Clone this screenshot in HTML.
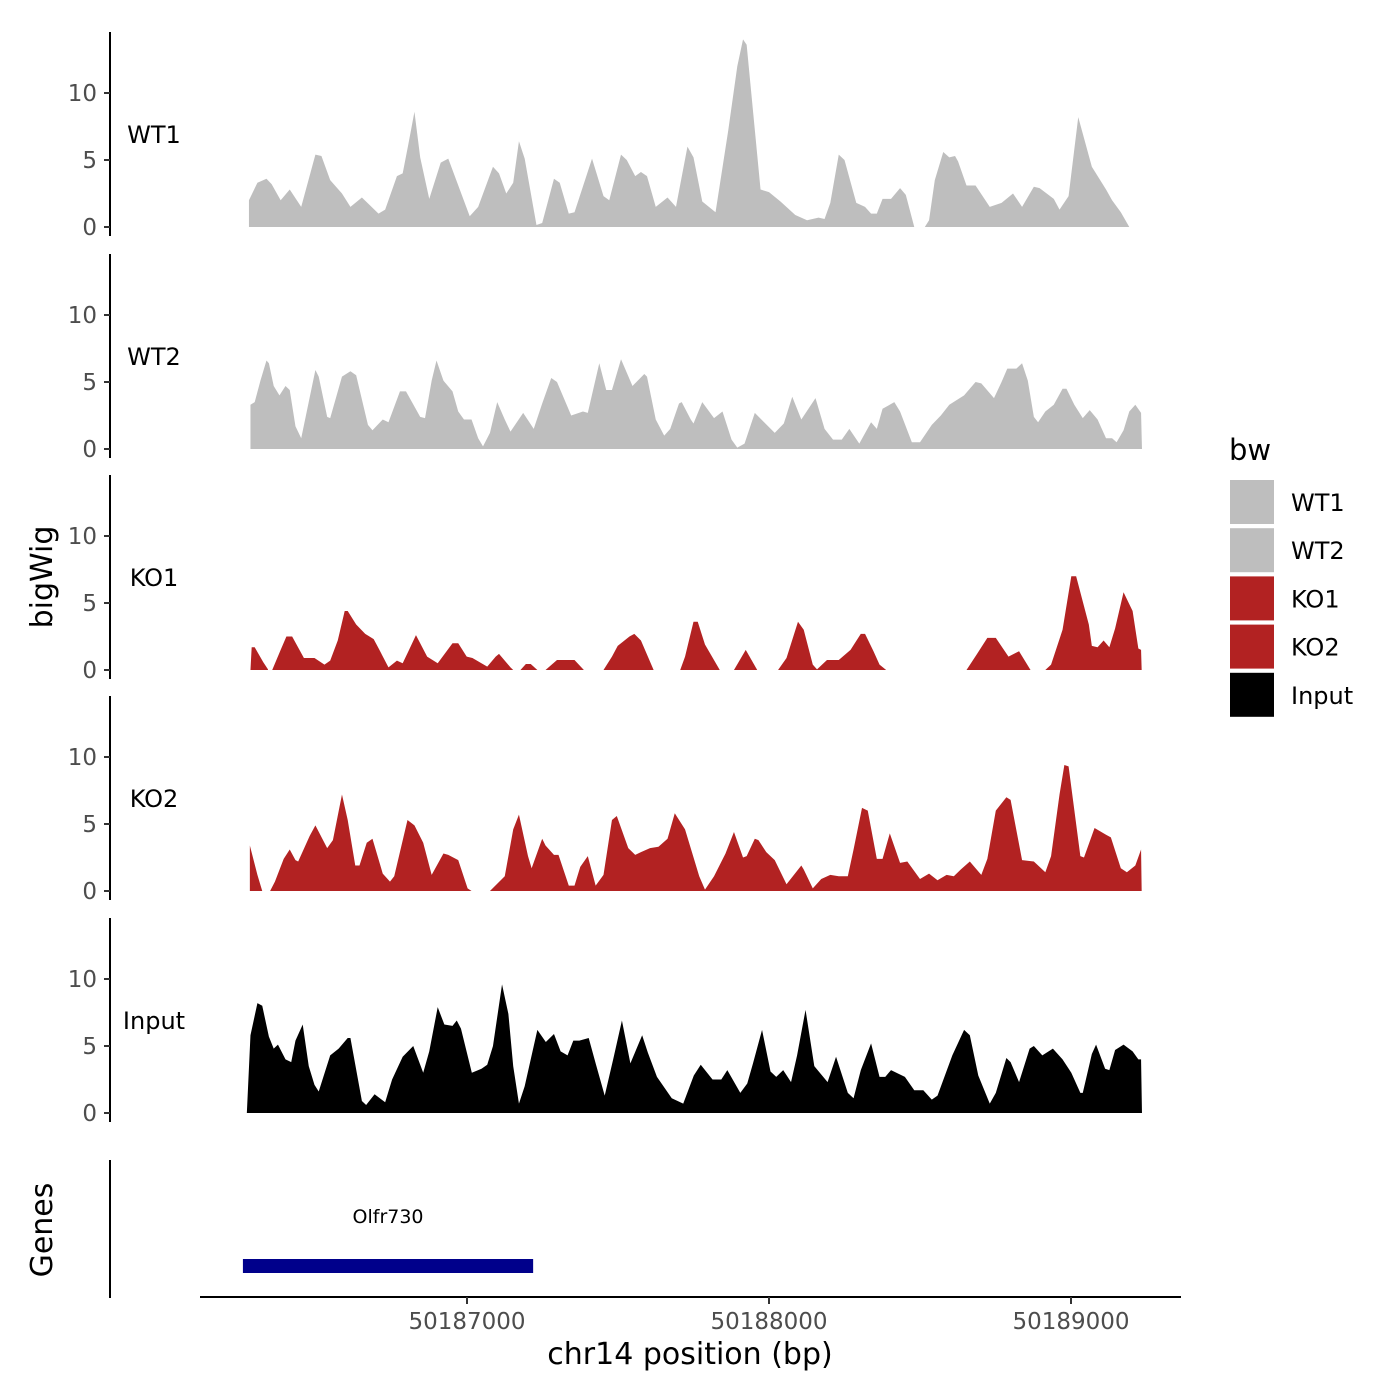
<!DOCTYPE html>
<html><head><meta charset="utf-8"><style>
html,body{margin:0;padding:0;background:#fff;}
svg{display:block;font-family:"DejaVu Sans","Liberation Sans",sans-serif;}
</style></head><body>
<svg id="chart" width="1400" height="1400" viewBox="0 0 1400 1400" xmlns="http://www.w3.org/2000/svg"></svg>
<script>
const origin = 50186000;
const trackNames = ["WT1","WT2","KO1","KO2","Input"];
const trackColors = ["#bebebe","#bebebe","#b22222","#b22222","#000000"];
const yTicks = [0,5,10];
const xTicks = [50187000,50188000,50189000];
const xTickLabels = ["50187000","50188000","50189000"];
const geneName = "Olfr730";
const geneStart = 50186258;
const geneEnd = 50187219;

const wt1Pos = [278,306,336,353,383,413,451,498,518,547,586,614,652,707,729,768,787,806,826,845,875,913,938,1009,1037,1086,1106,1130,1153,1172,1191,1230,1249,1288,1307,1337,1356,1414,1452,1471,1510,1529,1557,1576,1596,1625,1664,1692,1730,1750,1779,1823,1865,1895,1914,1926,1972,2000,2038,2087,2126,2164,2184,2203,2231,2250,2289,2318,2338,2357,2376,2404,2434,2453,2481,2500,2516,2530,2549,2577,2597,2616,2626,2654,2684,2731,2770,2808,2838,2877,2896,2943,2962,2992,3024,3069,3116,3136,3165,3193];
const wt1Val = [2.0,3.3,3.6,3.2,2.0,2.8,1.5,5.4,5.3,3.5,2.5,1.5,2.2,1.0,1.3,3.8,4.0,6.2,8.6,5.2,2.1,4.8,5.1,0.8,1.5,4.5,4.0,2.5,3.3,6.4,5.1,0.15,0.3,3.6,3.3,1.0,1.1,5.1,2.3,2.0,5.4,5.0,3.8,4.1,3.8,1.5,2.2,1.5,6.0,5.2,1.9,1.1,7.2,12.0,14.0,13.6,2.8,2.6,1.9,0.9,0.5,0.7,0.6,1.8,5.4,5.0,1.8,1.5,1.0,1.0,2.1,2.1,2.9,2.4,0,null,0,0.5,3.5,5.6,5.2,5.3,4.9,3.1,3.1,1.5,1.8,2.5,1.5,3.0,2.9,2.1,1.3,2.3,8.2,4.5,2.8,2.0,1.1,0];

const wt2Pos = [283,297,316,336,344,360,379,399,413,432,451,498,509,537,547,586,614,633,672,687,721,740,778,798,845,861,883,899,922,952,971,990,1015,1037,1053,1076,1100,1125,1144,1186,1221,1249,1279,1298,1345,1384,1400,1438,1461,1480,1510,1548,1587,1596,1625,1653,1673,1702,1711,1741,1750,1779,1818,1846,1876,1895,1919,1953,2019,2049,2077,2107,2154,2184,2212,2241,2266,2299,2338,2357,2376,2415,2434,2473,2500,2539,2569,2597,2646,2684,2703,2745,2770,2789,2819,2838,2857,2877,2891,2915,2943,2972,2985,3011,3039,3062,3088,3116,3136,3151,3174,3193,3213,3232,3235];
const wt2Val = [3.3,3.5,5.1,6.6,6.4,4.7,4.0,4.7,4.4,1.7,0.8,5.9,5.4,2.4,2.3,5.4,5.8,5.5,1.8,1.4,2.2,2.0,4.3,4.3,2.4,2.3,5.1,6.6,5.1,4.3,2.8,2.2,2.2,0.8,0.2,1.2,3.5,2.2,1.3,2.7,1.5,3.4,5.3,5.0,2.5,2.8,2.7,6.4,4.4,4.4,6.7,4.7,5.6,5.4,2.2,1.0,1.5,3.4,3.5,2.2,1.9,3.5,2.3,2.8,0.7,0.1,0.4,2.7,1.2,1.9,3.9,2.2,3.8,1.5,0.7,0.7,1.5,0.4,2.0,1.5,3.0,3.5,2.8,0.5,0.5,1.8,2.5,3.3,4.0,5.0,4.9,3.8,5.0,6.0,6.0,6.4,5.1,2.4,2.0,2.8,3.3,4.5,4.5,3.3,2.3,2.9,2.2,0.8,0.8,0.5,1.4,2.8,3.3,2.7,0];

const ko1Pos = [283,287,297,325,341,348,355,383,402,421,460,495,528,547,572,595,605,633,663,691,710,740,768,787,806,831,868,903,952,971,999,1018,1067,1095,1106,1144,1153,1165,1177,1195,1211,1233,1246,1260,1298,1356,1387,1415,1452,1480,1499,1538,1554,1576,1618,1660,1706,1722,1750,1764,1788,1837,1862,1884,1923,1961,1993,2030,2058,2096,2115,2145,2159,2192,2231,2270,2304,2318,2346,2366,2388,2527,2654,2689,2723,2751,2793,2828,2866,2894,2915,2934,2972,3001,3017,3059,3069,3088,3108,3127,3146,3174,3204,3223,3232,3234];
const ko1Val = [0,1.7,1.7,0.6,0.05,null,0,1.5,2.5,2.5,0.9,0.9,0.4,0.7,2.2,4.4,4.4,3.4,2.7,2.3,1.5,0.2,0.7,0.5,1.4,2.6,1.0,0.5,2.0,2.0,1.0,0.9,0.25,1.0,1.2,0.2,0,null,0,0.45,0.45,0,null,0,0.75,0.75,0,null,0,1.0,1.8,2.5,2.7,2.2,0,null,0,1.0,3.6,3.6,1.9,0,null,0,1.5,0,null,0,0.9,3.6,3.0,0.4,0.05,0.75,0.75,1.5,2.7,2.7,1.4,0.4,0,null,0,1.2,2.4,2.4,1.0,1.4,0,null,0,0.4,3.0,7.0,7.0,3.4,1.8,1.7,2.2,1.7,3.1,5.8,4.4,1.6,1.5,0];

const ko2Pos = [281,306,322,336,348,364,393,413,432,441,479,498,537,556,586,605,630,644,668,687,721,745,759,803,826,855,883,922,938,971,1002,1015,1046,1076,1125,1153,1172,1202,1214,1249,1260,1288,1303,1337,1356,1375,1400,1426,1452,1480,1496,1534,1557,1576,1606,1634,1664,1688,1722,1769,1788,1818,1856,1884,1914,1926,1953,1965,1991,2019,2058,2107,2115,2145,2173,2203,2231,2261,2280,2308,2327,2357,2376,2400,2434,2458,2500,2530,2558,2588,2612,2635,2665,2684,2703,2723,2751,2786,2800,2838,2877,2915,2934,2962,2978,2992,3031,3043,3078,3116,3132,3165,3185,3213,3232,3234];
const ko2Val = [3.4,1.2,0,null,0,0.7,2.4,3.1,2.3,2.2,4.1,4.9,3.2,3.8,7.2,5.3,1.9,1.9,3.6,3.9,1.3,0.7,1.1,5.3,4.9,3.6,1.2,2.8,2.7,2.3,0.2,0,null,0,1.1,4.6,5.7,2.6,1.7,3.9,3.4,2.7,2.7,0.4,0.4,1.8,2.6,0.4,1.2,5.3,5.6,3.2,2.7,2.9,3.2,3.3,3.9,5.8,4.6,1.1,0.1,1.1,2.8,4.4,2.5,2.6,3.9,3.8,2.9,2.3,0.5,1.9,1.6,0.2,0.9,1.2,1.1,1.1,3.1,6.2,6.0,2.4,2.4,4.3,2.1,2.2,0.9,1.3,0.8,1.2,1.1,1.6,2.2,1.7,1.2,2.4,6.0,7.0,6.8,2.3,2.2,1.4,2.6,7.2,9.4,9.3,2.6,2.5,4.7,4.2,4.0,1.7,1.4,1.9,3.1,0];

const inputPos = [271,283,306,322,344,360,374,399,418,432,456,476,495,509,547,575,605,614,652,666,694,729,752,787,822,855,875,903,925,952,966,980,1016,1048,1067,1086,1116,1137,1153,1172,1191,1233,1261,1288,1310,1333,1352,1372,1403,1426,1456,1484,1513,1541,1580,1599,1629,1678,1716,1751,1774,1813,1842,1862,1905,1928,1947,1977,2005,2024,2047,2073,2093,2121,2150,2194,2222,2261,2280,2304,2338,2366,2385,2404,2450,2481,2511,2539,2558,2607,2646,2665,2693,2731,2751,2786,2800,2828,2863,2877,2905,2940,2972,3001,3031,3039,3069,3083,3113,3127,3146,3174,3204,3223,3232,3235];
const inputVal = [0,5.8,8.2,8.0,5.7,4.8,5.1,4.0,3.8,5.4,6.6,3.5,2.1,1.6,4.3,4.8,5.6,5.6,0.9,0.6,1.4,0.8,2.5,4.2,5.0,3.0,4.6,7.9,6.6,6.5,6.9,6.3,3.0,3.3,3.6,5.0,9.6,7.4,3.5,0.7,2.0,6.2,5.3,5.9,4.6,4.3,5.4,5.4,5.6,3.7,1.3,4.0,6.9,3.7,5.8,4.5,2.7,1.1,0.7,2.8,3.6,2.5,2.5,3.2,1.5,2.2,3.7,6.2,3.1,2.7,3.2,2.3,4.3,7.7,3.5,2.3,4.2,1.5,1.1,3.2,5.2,2.7,2.7,3.2,2.7,1.7,1.7,1.0,1.3,4.3,6.2,5.8,2.8,0.7,1.5,4.1,3.8,2.3,4.8,5.0,4.3,4.8,4.0,3.0,1.5,1.5,4.4,5.1,3.3,3.2,4.7,5.1,4.6,4.0,4.0,0];

const trackPos = [wt1Pos,wt2Pos,ko1Pos,ko2Pos,inputPos];
const trackVal = [wt1Val,wt2Val,ko1Val,ko2Val,inputVal];

const NS = "http://www.w3.org/2000/svg";
const svg = document.getElementById("chart");
function mk(tag, attrs, parent){
  const e = document.createElementNS(NS, tag);
  for (const k in attrs) e.setAttribute(k, attrs[k]);
  (parent||svg).appendChild(e);
  return e;
}
function xScale(bp){ return 467 + (bp - 50187000) * 0.302; }
const zeros = [227,449,670,891,1113];
const pxPerUnit = 13.4;
function yScale(t, v){ return zeros[t] - v * pxPerUnit; }

let t = mk("text",{x:0,y:0,"font-size":30,fill:"#000","text-anchor":"middle",transform:"translate(52,577) rotate(-90)"});
t.textContent = "bigWig";



for (let i = 0; i < trackNames.length; i++){
  const g = mk("g",{});
  
  
  const z = zeros[i];
  const axis = mk("line",{x1:110,x2:110,y1:z-195,y2:z+9,stroke:"#000","stroke-width":2},g);
  
  
  yTicks.forEach(function(v){
    const y = yScale(i, v);
    const tk = mk("line",{x1:104,x2:110,y1:y,y2:y,stroke:"#333","stroke-width":2},g);
    
    
    const tl = mk("text",{x:97,y:y+8,"font-size":23,fill:"#4d4d4d","text-anchor":"end"},g);
    tl.textContent = String(v);
    
    
  });
  const lab = mk("text",{x:154,y:z-84,"font-size":24,fill:"#000","text-anchor":"middle"},g);
  lab.textContent = trackNames[i];
  
  
  const P = trackPos[i], V = trackVal[i];
  let seg = [];
  const segs = [];
  for (let j = 0; j < P.length; j++){
    if (V[j] === null){ if (seg.length) segs.push(seg); seg = []; continue; }
    seg.push([xScale(origin + P[j]), yScale(i, V[j])]);
  }
  if (seg.length) segs.push(seg);
  segs.forEach(function(s){
    let d = "M" + s[0][0] + "," + z;
    s.forEach(function(p){ d += "L" + p[0] + "," + p[1]; });
    d += "L" + s[s.length-1][0] + "," + z + "Z";
    const a = mk("path",{d:d,fill:trackColors[i],stroke:"none"},g);
    
    
  });
}

const gg = mk("g",{});


const gAxis = mk("line",{x1:110,x2:110,y1:1160,y2:1298,stroke:"#000","stroke-width":2},gg);


const gt = mk("text",{x:0,y:0,"font-size":30,fill:"#000","text-anchor":"middle",transform:"translate(52,1230) rotate(-90)"},gg);
gt.textContent = "Genes";


const gb = mk("rect",{x:xScale(geneStart),y:1259,width:xScale(geneEnd)-xScale(geneStart),height:14,fill:"#00008b"},gg);


const gl = mk("text",{x:(xScale(geneStart)+xScale(geneEnd))/2,y:1223,"font-size":19,fill:"#000","text-anchor":"middle"},gg);
gl.textContent = geneName;



const xa = mk("line",{x1:200,x2:1181,y1:1297,y2:1297,stroke:"#000","stroke-width":2});


xTicks.forEach(function(v, k){
  const x = xScale(v);
  const tk = mk("line",{x1:x,x2:x,y1:1297,y2:1304,stroke:"#333","stroke-width":2});
  
  
  const tl = mk("text",{x:x,y:1329,"font-size":23,fill:"#4d4d4d","text-anchor":"middle"});
  tl.textContent = xTickLabels[k];
  
  
});
const xt = mk("text",{x:690,y:1364,"font-size":30,fill:"#000","text-anchor":"middle"});
xt.textContent = "chr14 position (bp)";



const lg = mk("g",{});


const lt = mk("text",{x:1229,y:460,"font-size":29,fill:"#000"},lg);
lt.textContent = "bw";


trackNames.forEach(function(n, k){
  const y = 480 + k * 48.2;
  const r = mk("rect",{x:1230,y:y,width:44,height:44,fill:trackColors[k]},lg);
  
  
  const tx = mk("text",{x:1291,y:y+31,"font-size":24,fill:"#000"},lg);
  tx.textContent = n;
  
  
});
</script>
</body></html>
